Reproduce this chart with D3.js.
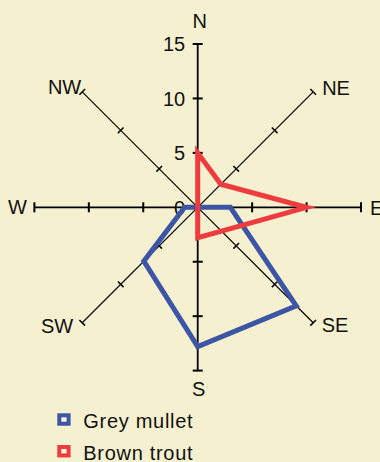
<!DOCTYPE html>
<html>
<head>
<meta charset="utf-8">
<script src="https://cdn.jsdelivr.net/npm/d3@7"></script>
<style>
  html, body { margin: 0; padding: 0; background: #f5f0cf; }
  svg { display: block; font-family: "Liberation Sans", Arial, sans-serif; }
</style>
</head>
<body>
<svg width="380" height="462"></svg>
<script>
var directions = ["N", "NE", "E", "SE", "S", "SW", "W", "NW"];
var greyMullet = [0, 0, 3, 12.8, 12.8, 7, 1.2, 0];
var brownTrout = [5, 3, 10, 3.1, 2.8, 0, 0, 0];
var tickValues = [5, 10, 15];
var tickLabels = ["5", "10", "15"];
var seriesNames = ["Grey mullet", "Brown trout"];
var seriesColors = ["#3c55a5", "#ee3b3e"];

var svg = d3.select("svg"),
  cx = 197.7, cy = 207.3;

var r = d3.scaleLinear().domain([0, 15]).range([0, 163.3]);
var angle = d3.scaleLinear().domain([0, 8]).range([0, 2 * Math.PI]);

function pt(i, v) {
  var a = angle(i);
  return [cx + r(v) * Math.sin(a), cy - r(v) * Math.cos(a)];
}

var g = svg.append("g");

// axes
directions.forEach(function(d, i) {
  var main = i % 2 == 0;
  var end = pt(i, 15);
  g.append("line")
    .attr("x1", cx).attr("y1", cy)
    .attr("x2", end[0]).attr("y2", end[1])
    .attr("stroke", "#000")
    .attr("stroke-width", main ? 1.8 : 1.2);
  var a = angle(i), half = main ? 5 : 4;
  tickValues.forEach(function(t) {
    var p = pt(i, t);
    var dx = Math.cos(a) * half, dy = Math.sin(a) * half;
    g.append("line")
      .attr("x1", p[0] - dx).attr("y1", p[1] - dy)
      .attr("x2", p[0] + dx).attr("y2", p[1] + dy)
      .attr("stroke", "#000")
      .attr("stroke-width", main ? 2 : 1.5);
  });
});

// tick labels on N axis
tickValues.forEach(function(t, k) {
  var p = pt(0, t);
  g.append("text")
    .attr("x", p[0] - 12.5).attr("y", p[1])
    .attr("dy", "0.36em")
    .attr("text-anchor", "end")
    .attr("font-size", 20)
    .attr("fill", "#111")
    .text(tickLabels[k]);
});
g.append("text")
  .attr("x", cx - 12.5).attr("y", cy)
  .attr("dy", "0.36em")
  .attr("text-anchor", "end")
  .attr("font-size", 20)
  .attr("fill", "#111")
  .text("0");

// direction labels
var labelPos = [
  {dx: 2, dy: -23, anchor: "middle"},
  {dx: 9, dy: -4, anchor: "start"},
  {dx: 9, dy: 0, anchor: "start"},
  {dx: 8.5, dy: 2, anchor: "start"},
  {dx: 1, dy: 18, anchor: "middle"},
  {dx: -9, dy: 3, anchor: "end"},
  {dx: -7.5, dy: -1, anchor: "end"},
  {dx: -1, dy: -5, anchor: "end"}
];
directions.forEach(function(d, i) {
  var end = pt(i, 15);
  g.append("text")
    .attr("x", end[0] + labelPos[i].dx)
    .attr("y", end[1] + labelPos[i].dy)
    .attr("dy", "0.36em")
    .attr("text-anchor", labelPos[i].anchor)
    .attr("font-size", 20)
    .attr("fill", "#111")
    .text(d);
});

// series polygons
var line = d3.line().curve(d3.curveLinearClosed);
[greyMullet, brownTrout].forEach(function(s, k) {
  g.append("path")
    .attr("d", line(s.map(function(v, i) { return pt(i, v); })))
    .attr("fill", "none")
    .attr("stroke", seriesColors[k])
    .attr("stroke-width", 5)
    .attr("stroke-linejoin", "miter");
});

// legend
var leg = svg.append("g").attr("transform", "translate(57.3,413.3)");
seriesNames.forEach(function(n, k) {
  var row = leg.append("g").attr("transform", "translate(0," + (k * 31.7) + ")");
  row.append("rect")
    .attr("x", 2).attr("y", 2)
    .attr("width", 9.3).attr("height", 8.4)
    .attr("fill", "#f8f4e0")
    .attr("stroke", seriesColors[k])
    .attr("stroke-width", 4);
  row.append("text")
    .attr("x", 26).attr("y", 15)
    .attr("font-size", 20)
    .attr("letter-spacing", 0.7)
    .attr("fill", "#111")
    .text(n);
});
</script>
</body>
</html>
